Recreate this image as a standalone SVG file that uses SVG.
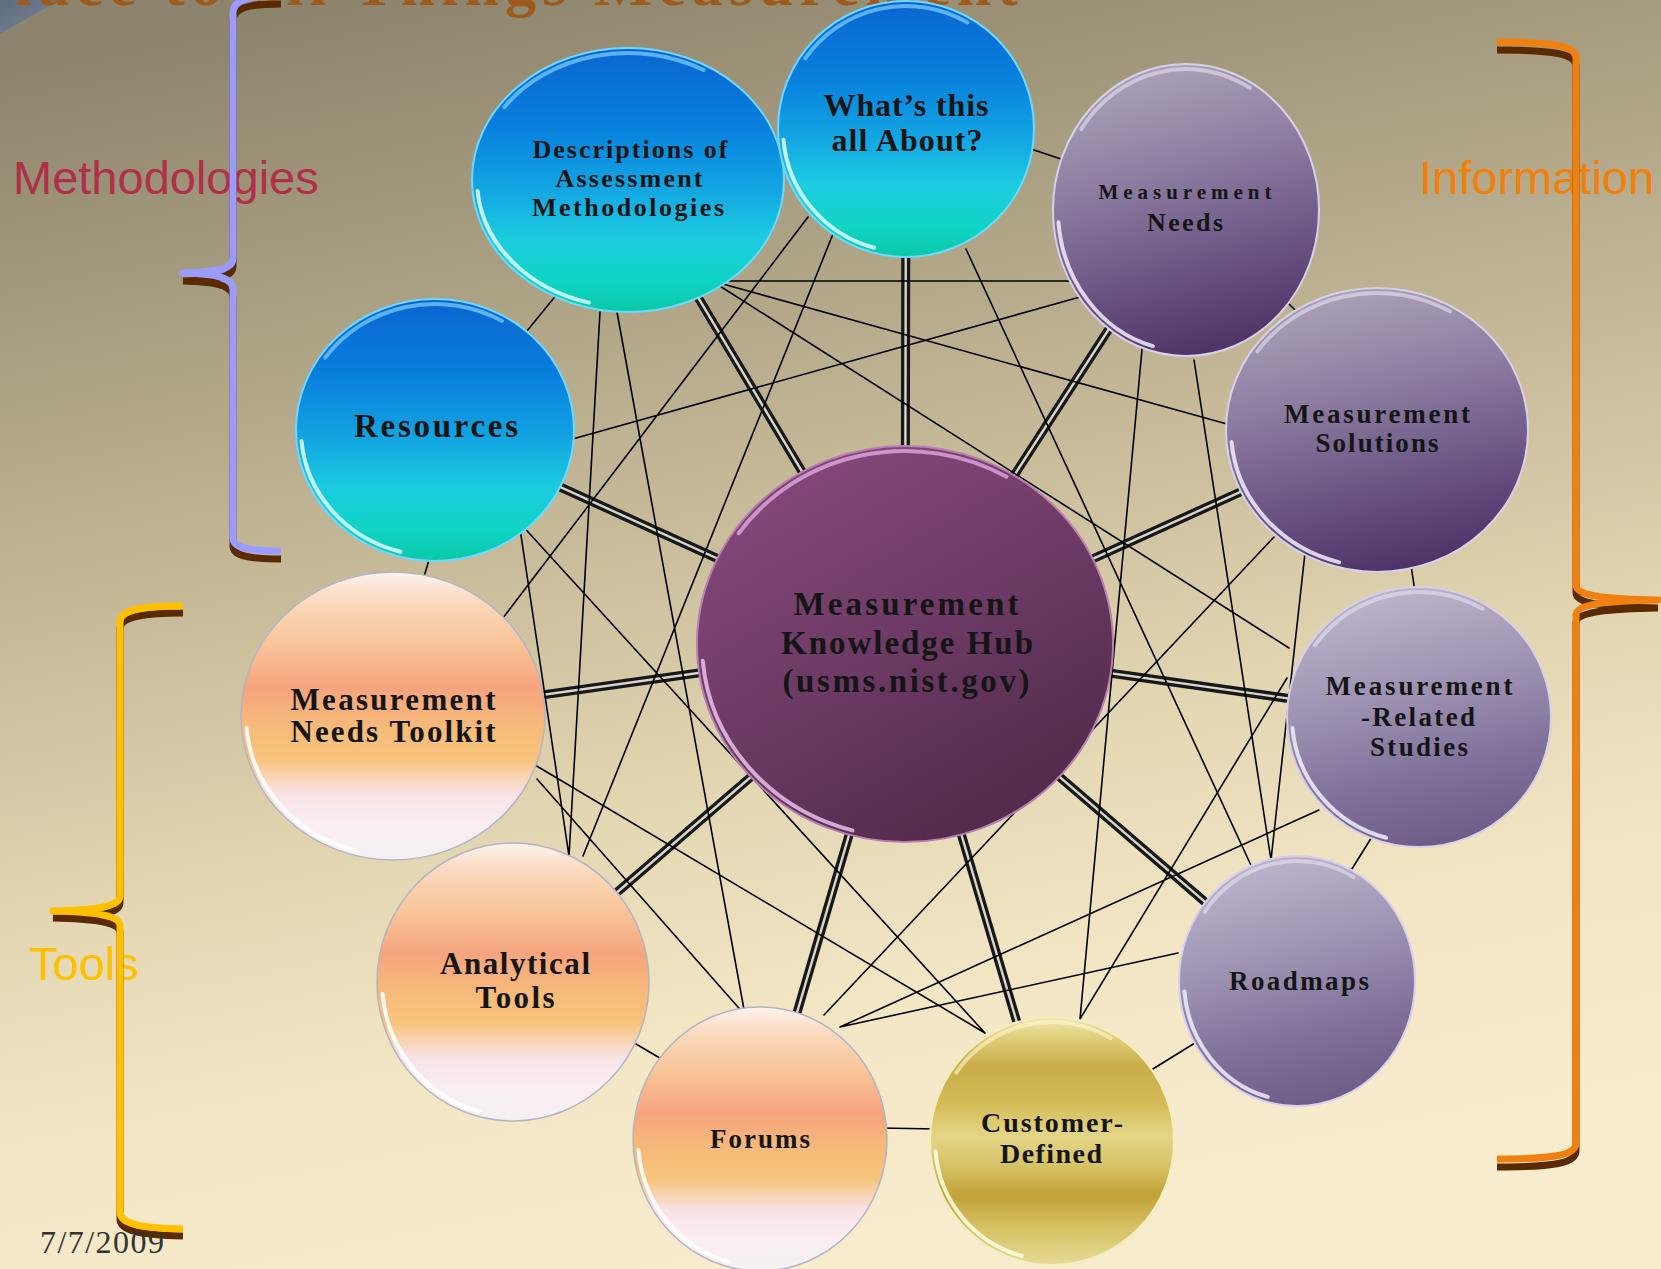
<svg xmlns="http://www.w3.org/2000/svg" xmlns:xlink="http://www.w3.org/1999/xlink" width="1661" height="1269" viewBox="0 0 1661 1269">
<defs>
<style>
.lbl{font-family:"Liberation Sans",Arial,sans-serif;font-size:47px}
.nt{font-family:"Liberation Serif","Times New Roman",serif;font-weight:bold;fill:#151515;text-anchor:middle}
.link{fill:none;stroke:#000;stroke-width:1.6;stroke-linecap:round}
.spO{fill:none;stroke:#181818;stroke-width:9}
.spI{fill:none;stroke:#d9d6cc;stroke-width:2.4}
.rim{fill:none;stroke-width:4;stroke-linecap:round}
.brace{fill:none;stroke-width:7;stroke-linecap:butt;stroke-linejoin:round}
.shadow{fill:none;stroke:#5A2A02;stroke-width:7}
</style>
<linearGradient id="bg" x1="0.2" y1="0" x2="0.45" y2="1">
<stop offset="0" stop-color="#8C846D"/>
<stop offset="0.22" stop-color="#A99F82"/>
<stop offset="0.45" stop-color="#C9BD9B"/>
<stop offset="0.65" stop-color="#E4D7B4"/>
<stop offset="0.82" stop-color="#F3E6C5"/>
<stop offset="1" stop-color="#F8ECCF"/>
</linearGradient>
<linearGradient id="gBlue" x1="0" y1="0" x2="0" y2="1">
<stop offset="0" stop-color="#0A66D0"/>
<stop offset="0.3" stop-color="#0880DD"/>
<stop offset="0.55" stop-color="#14A8E2"/>
<stop offset="0.72" stop-color="#1CCCE0"/>
<stop offset="0.88" stop-color="#10D4C4"/>
<stop offset="1" stop-color="#0AC8A8"/>
</linearGradient>
<linearGradient id="gPurple" x1="0.35" y1="0" x2="0.6" y2="1">
<stop offset="0" stop-color="#ABA2B8"/>
<stop offset="0.35" stop-color="#8E7EA2"/>
<stop offset="0.7" stop-color="#6A5484"/>
<stop offset="1" stop-color="#4C3266"/>
</linearGradient>
<linearGradient id="gPurpleL" x1="0.35" y1="0" x2="0.6" y2="1">
<stop offset="0" stop-color="#BDB5CC"/>
<stop offset="0.4" stop-color="#9E92B2"/>
<stop offset="0.75" stop-color="#7E6E98"/>
<stop offset="1" stop-color="#6C5C86"/>
</linearGradient>
<linearGradient id="gOrange" x1="0" y1="0" x2="0" y2="1">
<stop offset="0" stop-color="#FDF3EE"/>
<stop offset="0.1" stop-color="#FAD9BE"/>
<stop offset="0.25" stop-color="#F8C498"/>
<stop offset="0.4" stop-color="#F6A47E"/>
<stop offset="0.55" stop-color="#F6BC7A"/>
<stop offset="0.65" stop-color="#F7C47C"/>
<stop offset="0.77" stop-color="#F8E2E6"/>
<stop offset="0.88" stop-color="#FAEEF2"/>
<stop offset="1" stop-color="#F4F0F2"/>
</linearGradient>
<linearGradient id="gGold" x1="0" y1="0" x2="0" y2="1">
<stop offset="0" stop-color="#F0E8B4"/>
<stop offset="0.08" stop-color="#E0D07C"/>
<stop offset="0.2" stop-color="#C8AC48"/>
<stop offset="0.35" stop-color="#D4BC58"/>
<stop offset="0.48" stop-color="#E4D688"/>
<stop offset="0.6" stop-color="#D6C266"/>
<stop offset="0.72" stop-color="#C2A238"/>
<stop offset="0.85" stop-color="#D6C264"/>
<stop offset="1" stop-color="#E6DA96"/>
</linearGradient>
<linearGradient id="gHub" x1="0.2" y1="0" x2="0.8" y2="1">
<stop offset="0" stop-color="#86497B"/>
<stop offset="0.5" stop-color="#6C3A64"/>
<stop offset="1" stop-color="#4E2848"/>
</linearGradient>
<linearGradient id="gCorner" x1="0" y1="0" x2="1" y2="1">
<stop offset="0" stop-color="#5E6C80"/>
<stop offset="1" stop-color="#7D8794"/>
</linearGradient>
<path id="arcL" d="M -0.9962 0.0872 A 1 1 0 0 0 -0.2588 0.9659" vector-effect="non-scaling-stroke"/>
<path id="arcT" d="M -0.819 -0.574 A 1 1 0 0 1 0.5 -0.866" vector-effect="non-scaling-stroke"/>
<path id="spokes" d="M905,644 L628,180 M905,644 L906,129 M905,644 L1186,210 M905,644 L1377,430 M905,644 L1419,717 M905,644 L1297,981 M905,644 L1052,1141 M905,644 L760,1139 M905,644 L513,982 M905,644 L393,716 M905,644 L435,430"/>
</defs>

<rect x="0" y="0" width="1661" height="1269" fill="url(#bg)"/>
<polygon points="0,0 60,0 0,34" fill="url(#gCorner)"/>

<text x="-29" y="5" font-family="Liberation Serif, serif" font-weight="bold" font-size="62" fill="#9C5A1C" textLength="1047" lengthAdjust="spacing">Place to all Things Measurement</text>

<g id="labels">
<text class="lbl" x="13" y="194" fill="#B0304A">Methodologies</text>
<text class="lbl" x="1419" y="194" fill="#F0800A">Information</text>
<text class="lbl" x="29" y="980" fill="#FFC000">Tools</text>
</g>

<g id="braces">
<path class="shadow" transform="translate(0,8)" d="M 281,-4 C 245,-4 233,1 233,13 L 233,258 C 233,268 222,272 183,273 C 222,274 233,279 233,290 L 233,538 C 233,547 245,551 281,551"/>
<path class="brace" stroke="#9B9BFF" d="M 281,-4 C 245,-4 233,1 233,13 L 233,258 C 233,268 222,272 183,273 C 222,274 233,279 233,290 L 233,538 C 233,547 245,551 281,551"/>
<path class="shadow" transform="translate(0,7)" d="M 183,606 C 140,606 120,610 120,622 L 120,896 C 120,906 100,910 53,911 C 100,912 120,916 120,926 L 120,1212 C 120,1224 140,1228 183,1229"/>
<path class="brace" stroke="#FFC000" d="M 183,606 C 140,606 120,610 120,622 L 120,896 C 120,906 100,910 53,911 C 100,912 120,916 120,926 L 120,1212 C 120,1224 140,1228 183,1229"/>
<path class="shadow" transform="translate(0,8)" d="M 1497,42 C 1555,42 1576,46 1576,58 L 1576,585 C 1576,595 1600,599 1658,600 C 1600,601 1576,605 1576,615 L 1576,1143 C 1576,1155 1555,1159 1497,1159"/>
<path class="brace" stroke="#F08010" d="M 1497,42 C 1555,42 1576,46 1576,58 L 1576,585 C 1576,595 1600,599 1658,600 C 1600,601 1576,605 1576,615 L 1576,1143 C 1576,1155 1555,1159 1497,1159"/>
</g>

<g id="connectors">
<use href="#spokes" class="spO"/>
<use href="#spokes" class="spI"/>
<path class="link" d="M569,440 L1080,297 M519,522 L569,856 M519,522 L985,1033 M712,281 L1080,281 M712,281 L1227,424 M712,281 L1289,648 M600,312 L569,856 M617,312 L745,1015 M808,217 L503,618 M839,219 L583,856 M966,249 L1255,874 M1144,328 L1080,1019 M1194,360 L1271,860 M1274,537 L824,1015 M1305,553 L1271,860 M1287,678 L1080,1019 M1319,810 L840,1027 M1178,953 L840,1027 M535,765 L985,1033 M537,779 L745,1015"/>
<path class="link" d="M518,342 L562,288 M1022,146 L1070,162 M1280,295 L1300,315 M1411,565 L1415,592 M1375,832 L1350,872 M1203,1038 L1148,1072 M880,1128 L938,1129 M636,1044 L670,1064 M423,580 L432,550"/>
</g>

<g id="n-descriptions">
<ellipse cx="628" cy="180" rx="156" ry="132" fill="url(#gBlue)" stroke="#6FD8FF" stroke-width="2"/>
<use href="#arcL" class="rim" stroke="#DFFFFF" stroke-opacity="0.85" transform="translate(628 180) scale(151 127)"/>
<use href="#arcT" class="rim" stroke="#7FD0FF" stroke-opacity="0.7" transform="translate(628 180) scale(151 127)"/>
<text class="nt" font-size="26" x="630" y="158" textLength="195" lengthAdjust="spacing">Descriptions of</text>
<text class="nt" font-size="26" x="629" y="187" textLength="147" lengthAdjust="spacing">Assessment</text>
<text class="nt" font-size="26" x="628" y="216" textLength="192" lengthAdjust="spacing">Methodologies</text>
</g>

<g id="n-whats">
<ellipse cx="906" cy="129" rx="128" ry="128" fill="url(#gBlue)" stroke="#6FD8FF" stroke-width="2"/>
<use href="#arcL" class="rim" stroke="#DFFFFF" stroke-opacity="0.85" transform="translate(906 129) scale(123 123)"/>
<use href="#arcT" class="rim" stroke="#7FD0FF" stroke-opacity="0.7" transform="translate(906 129) scale(123 123)"/>
<text class="nt" font-size="32" x="906" y="116" textLength="165" lengthAdjust="spacing">What&#8217;s this</text>
<text class="nt" font-size="32" x="907" y="151" textLength="151" lengthAdjust="spacing">all About?</text>
</g>

<g id="n-resources">
<ellipse cx="435" cy="430" rx="139" ry="131" fill="url(#gBlue)" stroke="#6FD8FF" stroke-width="2"/>
<use href="#arcL" class="rim" stroke="#DFFFFF" stroke-opacity="0.85" transform="translate(435 430) scale(134 126)"/>
<use href="#arcT" class="rim" stroke="#7FD0FF" stroke-opacity="0.7" transform="translate(435 430) scale(134 126)"/>
<text class="nt" font-size="33" x="436" y="437" textLength="164" lengthAdjust="spacing">Resources</text>
</g>

<g id="n-needs">
<ellipse cx="1186" cy="210" rx="133" ry="146" fill="url(#gPurple)" stroke="#D8D0E8" stroke-width="2"/>
<use href="#arcL" class="rim" stroke="#F2ECFF" stroke-opacity="0.85" transform="translate(1186 210) scale(128 141)"/>
<use href="#arcT" class="rim" stroke="#E8E2F2" stroke-opacity="0.6" transform="translate(1186 210) scale(128 141)"/>
<text class="nt" font-size="21" x="1185" y="199" textLength="173" lengthAdjust="spacing">Measurement</text>
<text class="nt" font-size="26" x="1185" y="231" textLength="76" lengthAdjust="spacing">Needs</text>
</g>

<g id="n-solutions">
<ellipse cx="1377" cy="430" rx="151" ry="142" fill="url(#gPurple)" stroke="#D8D0E8" stroke-width="2"/>
<use href="#arcL" class="rim" stroke="#F2ECFF" stroke-opacity="0.85" transform="translate(1377 430) scale(146 137)"/>
<use href="#arcT" class="rim" stroke="#E8E2F2" stroke-opacity="0.6" transform="translate(1377 430) scale(146 137)"/>
<text class="nt" font-size="27" x="1377" y="423" textLength="186" lengthAdjust="spacing">Measurement</text>
<text class="nt" font-size="27" x="1377" y="452" textLength="123" lengthAdjust="spacing">Solutions</text>
</g>

<g id="n-studies">
<ellipse cx="1419" cy="717" rx="132" ry="130" fill="url(#gPurpleL)" stroke="#D8D0E8" stroke-width="2"/>
<use href="#arcL" class="rim" stroke="#F2ECFF" stroke-opacity="0.85" transform="translate(1419 717) scale(127 125)"/>
<use href="#arcT" class="rim" stroke="#E8E2F2" stroke-opacity="0.6" transform="translate(1419 717) scale(127 125)"/>
<text class="nt" font-size="27" x="1419" y="695" textLength="187" lengthAdjust="spacing">Measurement</text>
<text class="nt" font-size="27" x="1418" y="726" textLength="114" lengthAdjust="spacing">-Related</text>
<text class="nt" font-size="27" x="1419" y="756" textLength="98" lengthAdjust="spacing">Studies</text>
</g>

<g id="n-roadmaps">
<ellipse cx="1297" cy="981" rx="118" ry="125" fill="url(#gPurpleL)" stroke="#D8D0E8" stroke-width="2"/>
<use href="#arcL" class="rim" stroke="#F2ECFF" stroke-opacity="0.85" transform="translate(1297 981) scale(113 120)"/>
<use href="#arcT" class="rim" stroke="#E8E2F2" stroke-opacity="0.6" transform="translate(1297 981) scale(113 120)"/>
<text class="nt" font-size="27" x="1299" y="990" textLength="140" lengthAdjust="spacing">Roadmaps</text>
</g>

<g id="n-customer">
<ellipse cx="1052" cy="1141" rx="122" ry="124" fill="url(#gGold)" stroke="#F4EEC0" stroke-width="2"/>
<use href="#arcL" class="rim" stroke="#FFFFE8" stroke-opacity="0.85" transform="translate(1052 1141) scale(117 119)"/>
<use href="#arcT" class="rim" stroke="#FFF8D0" stroke-opacity="0.6" transform="translate(1052 1141) scale(117 119)"/>
<text class="nt" font-size="28" x="1052" y="1132" textLength="142" lengthAdjust="spacing">Customer-</text>
<text class="nt" font-size="28" x="1051" y="1163" textLength="102" lengthAdjust="spacing">Defined</text>
</g>

<g id="n-forums">
<ellipse cx="760" cy="1139" rx="127" ry="132" fill="url(#gOrange)" stroke="#B4B4C4" stroke-width="1.5"/>
<use href="#arcL" class="rim" stroke="#FFFFFF" stroke-opacity="0.9" transform="translate(760 1139) scale(122 127)"/>
<text class="nt" font-size="27" x="760" y="1148" textLength="100" lengthAdjust="spacing">Forums</text>
</g>

<g id="n-toolkit">
<ellipse cx="393" cy="716" rx="152" ry="144" fill="url(#gOrange)" stroke="#B4B4C4" stroke-width="1.5"/>
<use href="#arcL" class="rim" stroke="#FFFFFF" stroke-opacity="0.9" transform="translate(393 716) scale(147 139)"/>
<text class="nt" font-size="31" x="393" y="710" textLength="205" lengthAdjust="spacing">Measurement</text>
<text class="nt" font-size="31" x="393" y="742" textLength="205" lengthAdjust="spacing">Needs Toolkit</text>
</g>

<g id="n-analytical">
<ellipse cx="513" cy="982" rx="136" ry="139" fill="url(#gOrange)" stroke="#B4B4C4" stroke-width="1.5"/>
<use href="#arcL" class="rim" stroke="#FFFFFF" stroke-opacity="0.9" transform="translate(513 982) scale(131 134)"/>
<text class="nt" font-size="31" x="515" y="974" textLength="150" lengthAdjust="spacing">Analytical</text>
<text class="nt" font-size="31" x="515" y="1008" textLength="79" lengthAdjust="spacing">Tools</text>
</g>

<g id="n-hub">
<ellipse cx="905" cy="644" rx="208" ry="198" fill="url(#gHub)" stroke="#B880B0" stroke-width="2"/>
<use href="#arcL" class="rim" stroke="#F0C8F0" stroke-opacity="0.8" transform="translate(905 644) scale(203 193)"/>
<use href="#arcT" class="rim" stroke="#E0A8E0" stroke-opacity="0.8" transform="translate(905 644) scale(203 193)"/>
<text class="nt" font-size="33" x="906" y="615" textLength="225" lengthAdjust="spacing">Measurement</text>
<text class="nt" font-size="33" x="907" y="654" textLength="252" lengthAdjust="spacing">Knowledge Hub</text>
<text class="nt" font-size="33" x="906" y="692" textLength="247" lengthAdjust="spacing">(usms.nist.gov)</text>
</g>

<text x="40" y="1253" font-family="Liberation Serif, serif" font-size="32" fill="#333" textLength="124" lengthAdjust="spacing">7/7/2009</text>
</svg>
